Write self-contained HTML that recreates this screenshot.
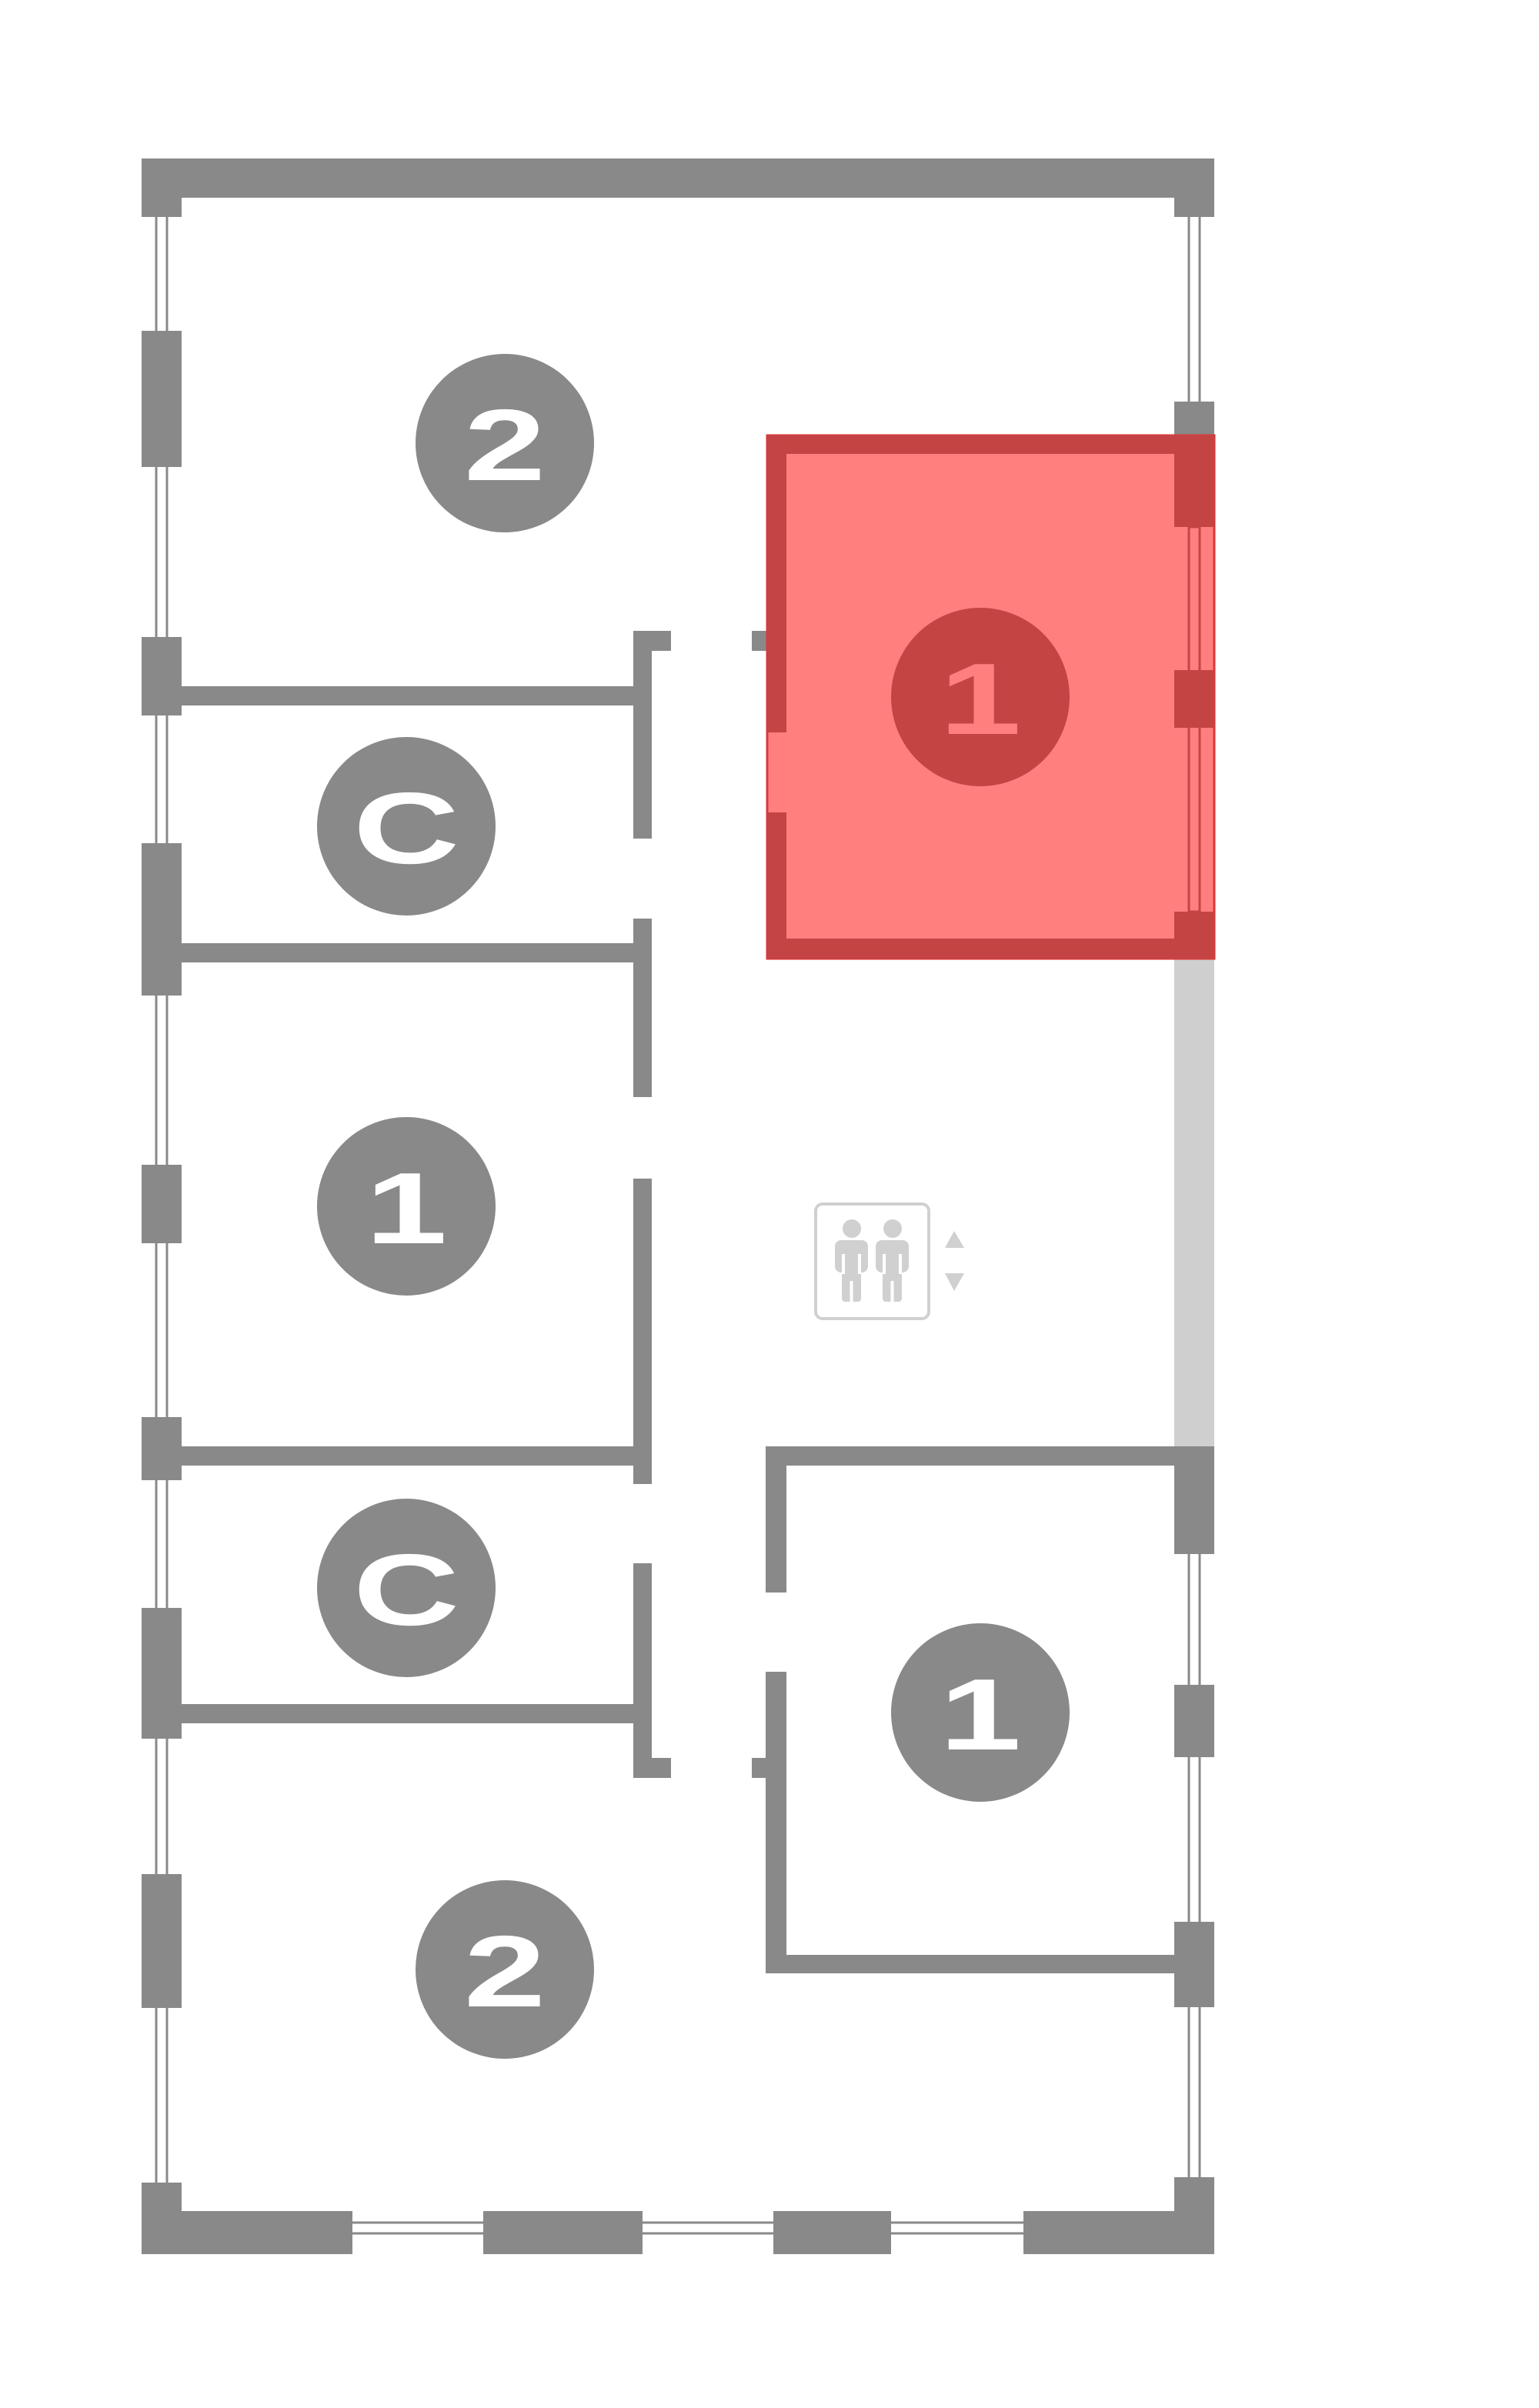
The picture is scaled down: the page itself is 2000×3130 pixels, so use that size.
<!DOCTYPE html>
<html><head><meta charset="utf-8"><style>
html,body{margin:0;padding:0;background:#fff;}
svg{display:block}
text{font-family:"Liberation Sans","DejaVu Sans",sans-serif;font-weight:bold;font-size:132px;}
</style></head><body>
<svg width="2000" height="3130" viewBox="0 0 2000 3130" xmlns="http://www.w3.org/2000/svg">
<g fill="#898989">
<rect x="203" y="256" width="14" height="2600" fill="none" stroke="#898989" stroke-width="3"/>
<rect x="1545" y="256" width="14" height="2600" fill="none" stroke="#898989" stroke-width="3"/>
<rect x="236" y="2889" width="1300" height="14" fill="#fff" stroke="#898989" stroke-width="3"/>
<rect x="184" y="206" width="1394" height="51"/>
<rect x="184" y="206" width="52" height="76"/>
<rect x="1526" y="206" width="52" height="76"/>
<rect x="184" y="430" width="52" height="177"/>
<rect x="184" y="828" width="52" height="102"/>
<rect x="184" y="1096" width="52" height="198"/>
<rect x="184" y="1514" width="52" height="102"/>
<rect x="184" y="1842" width="52" height="82"/>
<rect x="184" y="2090" width="52" height="170"/>
<rect x="184" y="2436" width="52" height="174"/>
<rect x="184" y="2837" width="52" height="93"/>
<rect x="184" y="2874" width="274" height="56"/>
<rect x="628" y="2874" width="207" height="56"/>
<rect x="1005" y="2874" width="153" height="56"/>
<rect x="1330" y="2874" width="248" height="56"/>
<rect x="1526" y="2830" width="52" height="100"/>
<rect x="1526" y="522" width="52" height="44"/>
<rect x="1526" y="1880" width="52" height="140"/>
<rect x="1526" y="2190" width="52" height="94"/>
<rect x="1526" y="2498" width="52" height="111"/>
<rect x="236" y="892" width="600" height="25"/>
<rect x="236" y="1226" width="600" height="25"/>
<rect x="236" y="1880" width="600" height="25"/>
<rect x="236" y="2215" width="600" height="25"/>
<rect x="823" y="820" width="49" height="26"/>
<rect x="823" y="820" width="24" height="270"/>
<rect x="977" y="820" width="20" height="26"/>
<rect x="823" y="1194" width="24" height="232"/>
<rect x="823" y="1532" width="24" height="397"/>
<rect x="823" y="2032" width="24" height="279"/>
<rect x="823" y="2285" width="49" height="26"/>
<rect x="977" y="2285" width="20" height="26"/>
<rect x="995" y="1880" width="583" height="25"/>
<rect x="995" y="1880" width="27" height="190"/>
<rect x="995" y="2173" width="27" height="392"/>
<rect x="995" y="2541" width="583" height="24"/>
</g>
<rect x="1526" y="1246" width="52" height="634" fill="#cfcfcf"/>
<rect x="997" y="566" width="581" height="680" fill="#ff7f7f" stroke="#d83a3a" stroke-width="3"/>
<g fill="#c44444">
<rect x="997" y="566" width="581" height="24"/>
<rect x="997" y="566" width="25" height="386"/>
<rect x="997" y="1056" width="25" height="190"/>
<rect x="997" y="1220" width="581" height="26"/>
<rect x="1526" y="566" width="52" height="119"/>
<rect x="1526" y="871" width="52" height="75"/>
<rect x="1526" y="1185" width="52" height="61"/>
<rect x="1545" y="685" width="14" height="500" fill="none" stroke="#c44444" stroke-width="3"/>
</g>
<g fill="#898989">
<circle cx="656" cy="576" r="116"/>
<circle cx="528" cy="1074" r="116"/>
<circle cx="528" cy="1568" r="116"/>
<circle cx="528" cy="2064" r="116"/>
<circle cx="1274" cy="2226" r="116"/>
<circle cx="656" cy="2560" r="116"/>
</g>
<circle cx="1274" cy="906" r="116" fill="#c44444"/>
<g fill="#fff" text-anchor="middle">
<text transform="translate(656,624) scale(1.45,1)">2</text>
<text transform="translate(528,1122) scale(1.45,1)">C</text>
<text transform="translate(528,1616) scale(1.45,1)">1</text>
<text transform="translate(528,2112) scale(1.45,1)">C</text>
<text transform="translate(1274,2274) scale(1.45,1)">1</text>
<text transform="translate(656,2608) scale(1.45,1)">2</text>
<text transform="translate(1274,954) scale(1.45,1)" fill="#ff7f7f">1</text>
</g>
<g fill="#d0d0d0">
<rect x="1060" y="1565" width="147" height="149" rx="9" fill="none" stroke="#d0d0d0" stroke-width="4"/>
<circle cx="1107" cy="1597" r="12"/>
<rect x="1085" y="1612" width="43" height="42" rx="8"/>
<rect x="1094" y="1640" width="25" height="52" rx="4"/>
<circle cx="1160" cy="1597" r="12"/>
<rect x="1138" y="1612" width="43" height="42" rx="8"/>
<rect x="1147" y="1640" width="25" height="52" rx="4"/>
<polygon points="1240,1600 1253,1622 1228,1622"/>
<polygon points="1228,1655 1253,1655 1240,1678"/>
</g>
<g stroke="#fff" stroke-width="4">
<line x1="1096" y1="1630" x2="1096" y2="1656"/><line x1="1117" y1="1630" x2="1117" y2="1656"/>
<line x1="1149" y1="1630" x2="1149" y2="1656"/><line x1="1170" y1="1630" x2="1170" y2="1656"/>
<line x1="1106.5" y1="1665" x2="1106.5" y2="1692"/><line x1="1159.5" y1="1665" x2="1159.5" y2="1692"/>
</g>
</svg>
</body></html>
